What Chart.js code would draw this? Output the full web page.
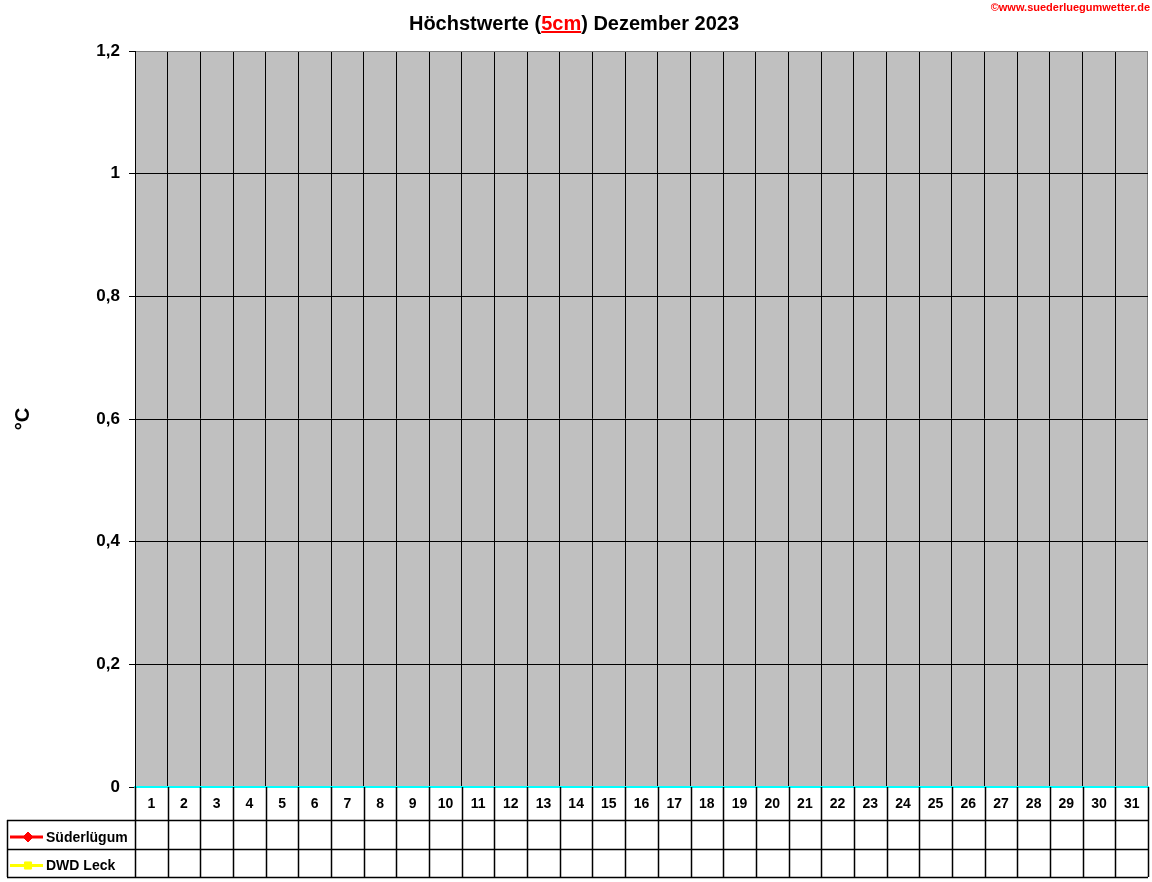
<!DOCTYPE html>
<html lang="de">
<head>
<meta charset="utf-8">
<title>Höchstwerte (5cm) Dezember 2023</title>
<script src="https://cdn.jsdelivr.net/npm/chart.js@4.4.1/dist/chart.umd.min.js"></script>
<style>
  html, body { margin: 0; padding: 0; background: #fff; }
  #wrap { width: 1152px; height: 882px; }
</style>
</head>
<body>
<div id="wrap"><canvas id="chart" width="1152" height="882"></canvas></div>
<script>
// Tage im Dezember
const tage = ['1', '2', '3', '4', '5', '6', '7', '8', '9', '10', '11', '12', '13', '14', '15', '16',
    '17', '18', '19', '20', '21', '22', '23', '24', '25', '26', '27', '28', '29', '30', '31'];

// Höchstwerte in 5cm (im Bild noch keine Werte eingetragen)
const suederluegum = [null, null, null, null, null, null, null, null, null, null, null, null, null, null, null, null,
    null, null, null, null, null, null, null, null, null, null, null, null, null, null, null];
const dwdLeck = [null, null, null, null, null, null, null, null, null, null, null, null, null, null, null, null,
    null, null, null, null, null, null, null, null, null, null, null, null, null, null, null];

// Beschriftung der y-Achse
const yTicks = [0, 0.2, 0.4, 0.6, 0.8, 1, 1.2];

const schrift = "'Liberation Sans', Arial, sans-serif";
Chart.defaults.font.family = schrift;

// grauer Hintergrund der Zeichenfläche
const hintergrund = {
    id: 'hintergrund',
    beforeDraw(chart) {
        const { ctx, chartArea: a } = chart;
        ctx.save();
        ctx.fillStyle = '#C0C0C0';
        ctx.fillRect(a.left, a.top, a.width, a.height);
        ctx.restore();
    }
};

// Titel mit rotem "5cm" und Copyright oben rechts
const titel = {
    id: 'titel',
    afterDraw(chart) {
        const ctx = chart.ctx;
        const teile = [['Höchstwerte (', '#000000'], ['5cm', '#FF0000'], [') Dezember 2023', '#000000']];
        ctx.save();
        ctx.font = 'bold 20px ' + schrift;
        ctx.textBaseline = 'alphabetic';
        ctx.textAlign = 'left';
        const breite = teile.reduce((s, t) => s + ctx.measureText(t[0]).width, 0);
        let x = 574 - breite / 2;
        teile.forEach(t => {
            const w = ctx.measureText(t[0]).width;
            ctx.fillStyle = t[1];
            ctx.fillText(t[0], x, 30);
            if (t[1] === '#FF0000') ctx.fillRect(x, 31, w, 2);
            x += w;
        });

        ctx.font = 'bold 11px ' + schrift;
        ctx.fillStyle = '#FF0000';
        ctx.textAlign = 'right';
        ctx.fillText('©www.suederluegumwetter.de', 1150, 11);
        ctx.restore();
    }
};

// Datentabelle unter dem Diagramm
const tabelle = {
    id: 'tabelle',
    afterDraw(chart) {
        const { ctx, chartArea: a, scales: { x } } = chart;
        const links = 7;
        const y0 = a.bottom, y1 = y0 + 33, y2 = y1 + 29, y3 = y2 + 28;
        const spalte = x.getPixelForValue(1) - x.getPixelForValue(0);

        ctx.save();
        ctx.strokeStyle = '#000000';
        ctx.lineWidth = 1.5;
        ctx.beginPath();
        for (let i = 0; i <= tage.length; i++) {
            const px = Math.round(x.getPixelForValue(i) - spalte / 2) + 0.5;
            ctx.moveTo(px, y0);
            ctx.lineTo(px, y3);
        }
        [y1, y2, y3].forEach(y => {
            ctx.moveTo(links, y + 0.5);
            ctx.lineTo(a.right, y + 0.5);
        });
        ctx.moveTo(links + 0.5, y1);
        ctx.lineTo(links + 0.5, y3);
        ctx.stroke();

        // Zeilenbeschriftung mit Legendensymbol
        const mitten = [(y1 + y2) / 2 + 2.5, (y2 + y3) / 2 + 2.5];
        chart.data.datasets.forEach((ds, i) => {
            const ym = mitten[i];
            ctx.strokeStyle = ds.borderColor;
            ctx.fillStyle = ds.backgroundColor;
            ctx.lineWidth = 3;
            ctx.beginPath();
            ctx.moveTo(10, ym);
            ctx.lineTo(43, ym);
            ctx.stroke();
            ctx.lineWidth = 1;
            Chart.helpers.drawPoint(ctx, { pointStyle: ds.pointStyle, radius: 5, borderWidth: 1 }, 28, ym);
            ctx.fillStyle = '#000000';
            ctx.font = 'bold 14px ' + schrift;
            ctx.textAlign = 'left';
            ctx.textBaseline = 'middle';
            ctx.fillText(ds.label, 46, ym + 1);
        });
        ctx.restore();
    }
};

new Chart(document.getElementById('chart').getContext('2d'), {
    type: 'line',
    data: {
        labels: tage,
        datasets: [{
            label: 'Süderlügum',
            data: suederluegum,
            borderColor: '#FF0000',
            backgroundColor: '#FF0000',
            borderWidth: 3,
            pointStyle: 'rectRot',
            pointRadius: 5
        }, {
            label: 'DWD Leck',
            data: dwdLeck,
            borderColor: '#FFFF00',
            backgroundColor: '#FFFF00',
            borderWidth: 3,
            pointStyle: 'rect',
            pointRadius: 5
        }]
    },
    options: {
        responsive: false,
        animation: false,
        devicePixelRatio: 1,
        layout: { autoPadding: false, padding: { top: 51, right: 4, bottom: 62, left: 0 } },
        plugins: {
            legend: { display: false },
            tooltip: { enabled: false },
            title: { display: false }
        },
        scales: {
            x: {
                offset: true,
                grid: {
                    offset: true,
                    color: c => c.tick ? '#000000' : '#808080',
                    lineWidth: 1,
                    drawTicks: false
                },
                border: { color: '#00FFFF', width: 2 },
                ticks: {
                    color: '#000000',
                    font: { size: 14, weight: 'bold' },
                    padding: 9,
                    maxRotation: 0,
                    autoSkip: false
                },
                afterFit: s => { s.height = 33; s.paddingLeft = 0; s.paddingRight = 0; }
            },
            y: {
                min: 0,
                max: 1.2,
                afterBuildTicks: s => { s.ticks = yTicks.map(v => ({ value: v })); },
                grid: {
                    color: c => (c.tick && c.tick.value >= 1.2) ? '#808080' : '#000000',
                    tickColor: '#000000',
                    tickLength: 6,
                    lineWidth: 1
                },
                border: { color: '#000000', width: 1 },
                ticks: {
                    color: '#000000',
                    font: { size: 17, weight: 'bold' },
                    padding: 9,
                    callback: v => String(v).replace('.', ',')
                },
                title: {
                    display: true,
                    text: '°C',
                    color: '#000000',
                    font: { size: 20, weight: 'bold' },
                    padding: { top: 11, bottom: 0 }
                },
                afterFit: s => { s.width = 135; }
            }
        }
    },
    plugins: [hintergrund, titel, tabelle]
});
</script>
</body>
</html>
